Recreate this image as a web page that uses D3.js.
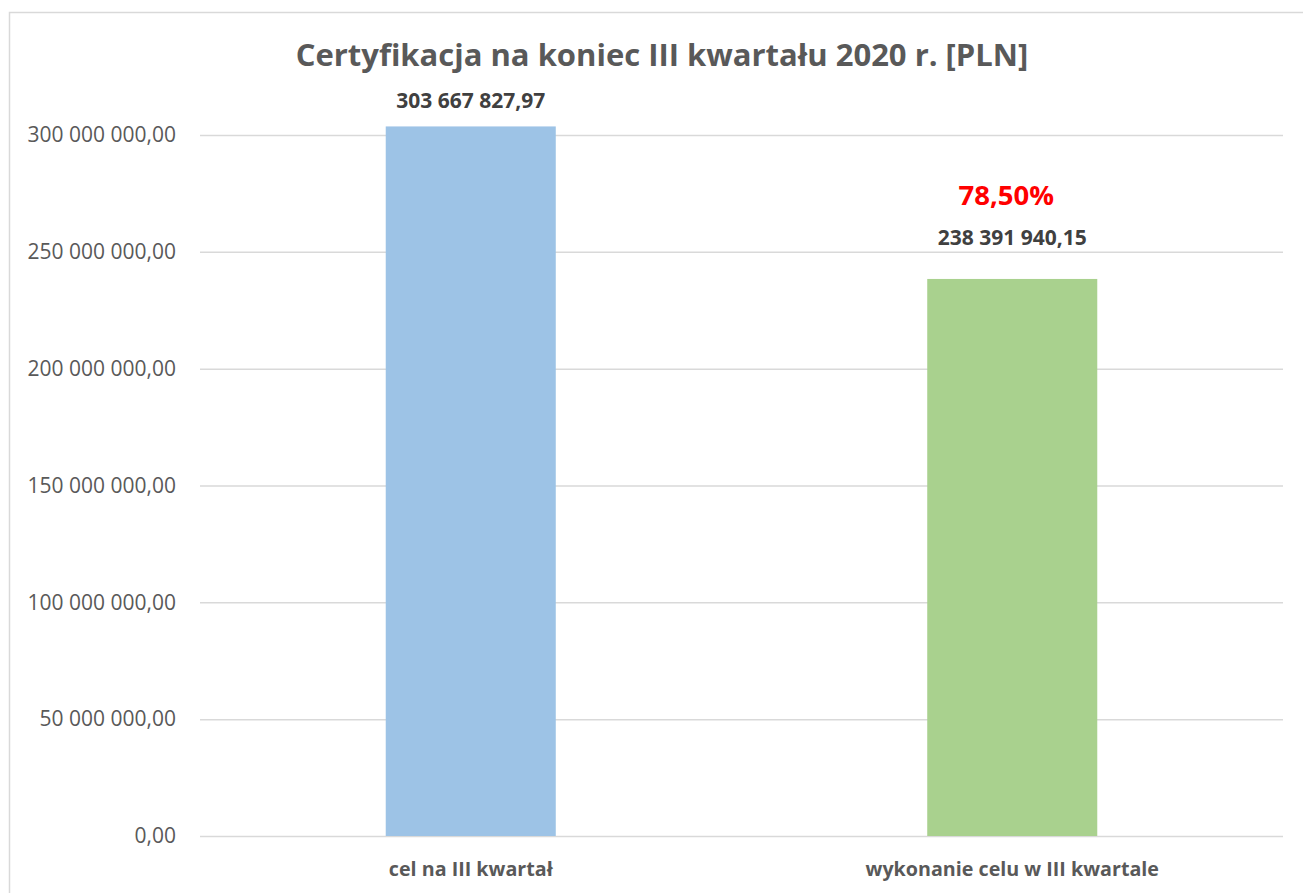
<!DOCTYPE html>
<html>
<head>
<meta charset="utf-8">
<script src="https://cdn.jsdelivr.net/npm/d3@7"></script>
<style>
  html, body { margin: 0; padding: 0; background: #fff; }
  svg { display: block; font-family: "Open Sans", sans-serif; }
</style>
</head>
<body>
<div id="chart"></div>
<script>
// data
var categories = ["cel na III kwartał", "wykonanie celu w III kwartale"]
var values = [303667827.97, 238391940.15]
var valueLabels = ["303 667 827,97", "238 391 940,15"]
var barColors = ["#9DC3E6", "#A9D18E"]
var yTicks = [0, 50000000, 100000000, 150000000, 200000000, 250000000, 300000000]
var percentLabel = "78,50%"
var title = "Certyfikacja na koniec III kwartału 2020 r. [PLN]"

var width = 1303,
    height = 893,
    margin = {top: 135, right: 20, bottom: 57, left: 200}

const svg = d3.select("#chart")
    .append("svg")
    .attr("width", width)
    .attr("height", height)

// chart frame
svg.append("rect")
    .attr("x", 9.5)
    .attr("y", 12.5)
    .attr("width", 1310)
    .attr("height", 900)
    .attr("fill", "none")
    .attr("stroke", "#D9D9D9")
    .attr("stroke-width", 1.5)

const x = d3.scaleBand()
    .domain(categories)
    .range([margin.left, width - margin.right])
    .paddingInner(0.686)
    .paddingOuter(0.343)

const y = d3.scaleLinear()
    .domain([0, 300000000])
    .range([height - margin.bottom, margin.top])

// number format like "300 000 000,00"
function plFormat (v) {
    var s = d3.format(",.2f")(v)
    return s.replace(/,/g, " ").replace(".", ",")
}

// gridlines + y labels
const yAxis = d3.axisLeft(y)
    .tickValues(yTicks)
    .tickFormat(plFormat)
    .tickSize(-(width - margin.right - margin.left))
    .tickPadding(24)

const gy = svg.append("g")
    .attr("transform", "translate(" + margin.left + ",0)")
    .call(yAxis)
gy.select(".domain").remove()
gy.selectAll(".tick line").attr("stroke", "#D9D9D9").attr("stroke-width", 1.5)
gy.selectAll(".tick text")
    .attr("fill", "#595959")
    .style("font-size", "21px")
    .style("font-family", "'Open Sans', sans-serif")

// bars
svg.selectAll("rect.bar")
    .data(values)
    .enter()
    .append("rect")
    .attr("class", "bar")
    .attr("x", (d, i) => x(categories[i]))
    .attr("y", d => y(d))
    .attr("width", x.bandwidth())
    .attr("height", d => y(0) - y(d))
    .attr("fill", (d, i) => barColors[i])

// value labels (second one was nudged up in the original to make room)
svg.selectAll("text.val")
    .data(values)
    .enter()
    .append("text")
    .attr("class", "val")
    .attr("x", (d, i) => x(categories[i]) + x.bandwidth() / 2)
    .attr("y", (d, i) => y(d) - (i == 0 ? 18 : 34))
    .attr("text-anchor", "middle")
    .attr("fill", "#404040")
    .style("font-weight", "bold")
    .style("font-size", "21px")
    .text((d, i) => valueLabels[i])

// percent label above the second bar
svg.append("text")
    .attr("x", x(categories[1]) + x.bandwidth() / 2 - 6)
    .attr("y", y(values[1]) - 74)
    .attr("text-anchor", "middle")
    .attr("fill", "#FF0000")
    .style("font-weight", "bold")
    .style("font-size", "27.5px")
    .text(percentLabel)

// x axis labels
const xAxis = d3.axisBottom(x).tickSize(0).tickPadding(26)
const gx = svg.append("g")
    .attr("transform", "translate(0," + y(0) + ")")
    .call(xAxis)
gx.select(".domain").remove()
gx.selectAll(".tick text")
    .attr("fill", "#595959")
    .style("font-weight", "bold")
    .style("font-size", "19.7px")
    .style("font-family", "'Open Sans', sans-serif")

// title
svg.append("text")
    .attr("x", 662)
    .attr("y", 66)
    .attr("text-anchor", "middle")
    .attr("fill", "#595959")
    .style("font-weight", "bold")
    .style("font-size", "31px")
    .text(title)
</script>
</body>
</html>
